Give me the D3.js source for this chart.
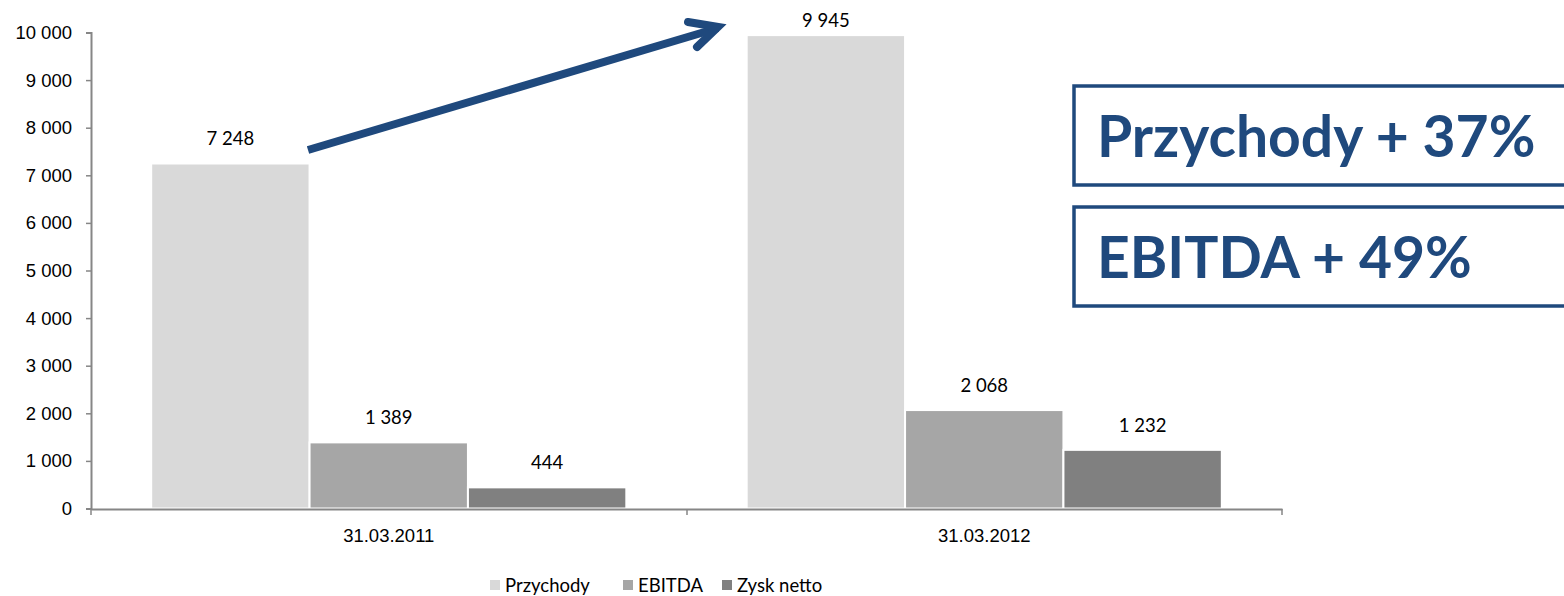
<!DOCTYPE html>
<html>
<head>
<meta charset="utf-8">
<script src="https://cdn.jsdelivr.net/npm/d3@7"></script>
<style>
  body { margin: 0; background: #fff; }
  svg { display: block; font-family: Lato, "Open Sans", sans-serif; }
</style>
</head>
<body>
<svg width="1564" height="596"></svg>
<script>
// dane
var dates = ["31.03.2011", "31.03.2012"];
var series = ["Przychody", "EBITDA", "Zysk netto"];
var przychody = [7248, 9945];
var ebitda = [1389, 2068];
var zysk = [444, 1232];
var yTicks = [0, 1000, 2000, 3000, 4000, 5000, 6000, 7000, 8000, 9000, 10000];
var boxTexts = ["Przychody + 37%", "EBITDA + 49%"];

var colors = ["#d9d9d9", "#a6a6a6", "#808080"];
var blue = "#1f497d";
var axisCol = "#868686";
var fs = 18.5;

var svg = d3.select("svg");

var pl = d3.formatLocale({decimal: ",", thousands: "\u00a0", grouping: [3], currency: ["", " zł"]});
var fmt = pl.format(",d");

// tabela z wartosciami
var rows = dates.map(function (d, i) {
  return {date: d, vals: [przychody[i], ebitda[i], zysk[i]]};
});

var x0 = d3.scaleBand().domain(dates).range([91, 1282]).paddingInner(0).paddingOuter(0);
var x1 = d3.scaleBand().domain(series).range([0, x0.bandwidth()]).paddingInner(0).paddingOuter(0.38);
var y = d3.scaleLinear().domain([0, 10000]).range([508.5, 32.5]);

// os y
var yAxis = svg.append("g")
  .attr("transform", "translate(91,0)")
  .call(d3.axisLeft(y).tickValues(yTicks).tickSize(5).tickPadding(14).tickFormat(fmt));
yAxis.select(".domain").attr("stroke", axisCol).attr("stroke-width", 2);
yAxis.selectAll(".tick line").attr("stroke", axisCol).attr("stroke-width", 1.5);
yAxis.selectAll("text").attr("font-size", fs).attr("fill", "#000");

// slupki
var groups = svg.append("g").selectAll("g")
  .data(rows).enter().append("g")
  .attr("transform", function (d) { return "translate(" + x0(d.date) + ",0)"; });

groups.selectAll("rect")
  .data(function (d) { return d.vals.map(function (v, i) { return {s: series[i], v: v, i: i}; }); })
  .enter().append("rect")
  .attr("x", function (d) { return x1(d.s); })
  .attr("width", x1.bandwidth())
  .attr("y", function (d) { return y(d.v); })
  .attr("height", function (d) { return y(0) - y(d.v); })
  .attr("fill", function (d) { return colors[d.i]; })
  .attr("stroke", "#fff")
  .attr("stroke-width", 2);

// etykiety - nie wychodza ponad gorna krawedz
groups.selectAll("text")
  .data(function (d) { return d.vals.map(function (v, i) { return {s: series[i], v: v}; }); })
  .enter().append("text")
  .attr("x", function (d) { return x1(d.s) + x1.bandwidth() / 2; })
  .attr("y", function (d) { return Math.max(y(d.v) - 18, 27); })
  .attr("text-anchor", "middle")
  .attr("font-size", fs)
  .text(function (d) { return fmt(d.v); });

// os x
var xAxis = svg.append("g")
  .attr("transform", "translate(0,509)")
  .call(d3.axisBottom(x0).tickSize(0).tickPadding(20));
xAxis.select(".domain").attr("stroke", axisCol).attr("stroke-width", 2);
xAxis.selectAll("text").attr("font-size", fs).attr("fill", "#000");
xAxis.selectAll(".sep")
  .data([91, 687, 1282]).enter().append("line")
  .attr("x1", function (d) { return d; }).attr("x2", function (d) { return d; })
  .attr("y1", 0).attr("y2", 6)
  .attr("stroke", axisCol).attr("stroke-width", 1.5);

// legenda
var legX = [490, 623, 722];
var leg = svg.append("g").selectAll("g")
  .data(series).enter().append("g")
  .attr("transform", function (d, i) { return "translate(" + legX[i] + ",580)"; });
leg.append("rect").attr("width", 10).attr("height", 10)
  .attr("fill", function (d, i) { return colors[i]; });
leg.append("text").attr("x", 15).attr("y", 11.5).attr("font-size", fs).text(function (d) { return d; });

// strzalka
svg.append("line")
  .attr("x1", 308).attr("y1", 150).attr("x2", 718).attr("y2", 28)
  .attr("stroke", blue).attr("stroke-width", 8);
svg.append("path")
  .attr("d", "M688,22 L718,27 L697,47")
  .attr("fill", "none").attr("stroke", blue).attr("stroke-width", 8)
  .attr("stroke-linecap", "round").attr("stroke-linejoin", "miter");

// ramki
var boxY = [86, 207];
var boxes = svg.append("g").selectAll("g")
  .data(boxTexts).enter().append("g")
  .attr("transform", function (d, i) { return "translate(1074," + boxY[i] + ")"; });
boxes.append("rect")
  .attr("width", 500).attr("height", 99)
  .attr("fill", "#fff").attr("stroke", blue).attr("stroke-width", 3.5);
boxes.append("text")
  .attr("x", 23).attr("y", 71)
  .attr("font-size", 57).attr("font-weight", "bold").attr("fill", blue)
  .text(function (d) { return d; });
</script>
</body>
</html>
